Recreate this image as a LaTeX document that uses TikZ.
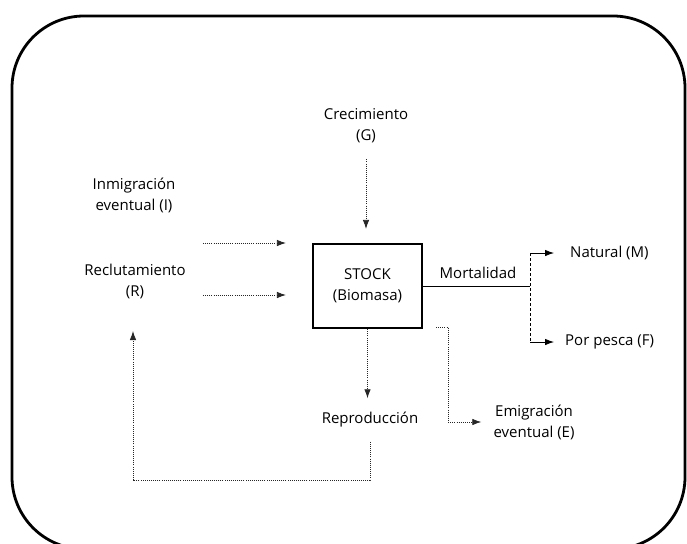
\documentclass[tikz,border=0pt]{standalone}
\usepackage{fontspec}
\setmainfont{Open Sans}
\usetikzlibrary{arrows.meta}
\begin{document}
\begin{tikzpicture}[x=1pt,y=-1pt,
  lbl/.style={inner sep=0pt, align=center, font=\fontsize{15}{21}\selectfont},
  dotarrow/.style={line width=0.8pt, black!85, dash pattern=on 1pt off 1.1pt, -{Latex[length=9pt,width=6.5pt]}},
  solarrow/.style={line width=0.8pt, -{Latex[length=9pt,width=6.5pt]}},
  frame/.style={line width=2.8pt, rounded corners=72pt},
  stockbox/.style={draw, line width=2.2pt, minimum width=109pt, minimum height=84pt, align=center, inner sep=0pt, font=\fontsize{15}{21}\selectfont}
]
\useasboundingbox (0,0) rectangle (687,543);
\draw[frame] (12,16) rectangle (685,549);

% nodes
\node[stockbox] (stock) at (367.5,286) {STOCK\\(Biomasa)};
\node[lbl] (crec) at (366,126) {Crecimiento\\(G)};
\node[lbl] (inm) at (134,195) {Inmigración\\eventual (I)};
\node[lbl] (rec) at (135,281) {Reclutamiento\\(R)};
\node[lbl] (rep) at (370,420) {Reproducción};
\node[lbl] (emi) at (534,422) {Emigración\\eventual (E)};
\node[lbl] (mort) at (478,273) {Mortalidad};
\node[lbl, anchor=west] (nat) at (570,253) {Natural (M)};
\node[lbl, anchor=west] (pes) at (565,342) {Por pesca (F)};

% coordinates
\coordinate (i1) at (203,243);
\coordinate (r1) at (203,295);
\coordinate (mj) at (530,286);
\coordinate (e0) at (436,327);
\coordinate (ev) at (448,327);
\coordinate (fbc) at (133,480);
\coordinate (fbtip) at (133,331);

% inputs
\draw[dotarrow, shorten <=16pt, shorten >=14pt] (crec.south) -- (crec.south |- stock.north);
\draw[dotarrow, shorten >=26pt] (i1) -- (i1 -| stock.west);
\draw[dotarrow, shorten >=26pt] (r1) -- (r1 -| stock.west);

% reproduction
\draw[dotarrow, shorten >=14pt] (stock.south) -- (stock.south |- rep.north);
\draw[dotarrow, shorten <=14pt] (rep.south) |- (fbc) -- (fbtip);

% mortality
\draw[line width=0.8pt] (stock.east) -- (mj);
\draw[line width=0.8pt, densely dashed] (mj |- nat.west) -- (mj |- pes.west);
\draw[solarrow, shorten >=16pt] (mj |- nat.west) -- (nat.west);
\draw[solarrow, shorten >=11pt] (mj |- pes.west) -- (pes.west);

% emigration
\draw[dotarrow, shorten >=12pt] (e0) -- (ev) |- (emi.west);
\end{tikzpicture}
\end{document}
